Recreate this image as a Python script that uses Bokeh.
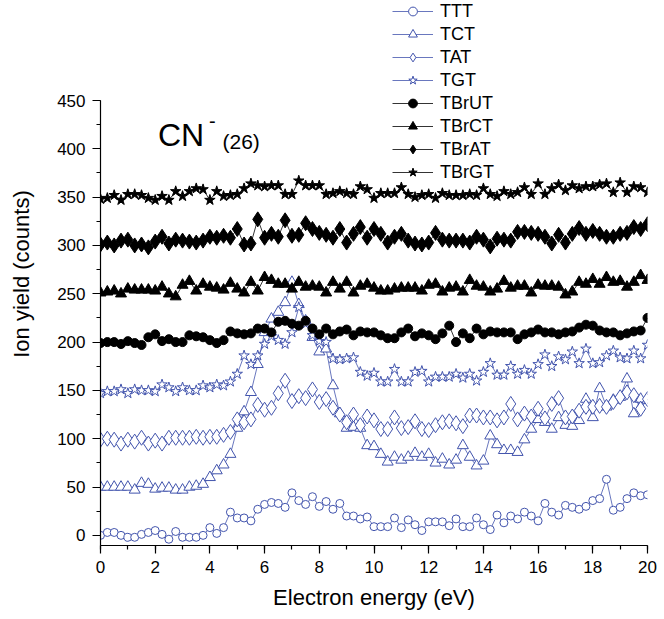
from bokeh.plotting import figure
from bokeh.models import Range1d, SingleIntervalTicker, Legend, LegendItem, Label
from bokeh.embed import file_html
from bokeh.resources import INLINE

energy = [0.0, 0.25, 0.5, 0.75, 1.0, 1.25, 1.5, 1.75, 2.0, 2.25,
          2.5, 2.75, 3.0, 3.25, 3.5, 3.75, 4.0, 4.25, 4.5, 4.75,
          5.0, 5.25, 5.5, 5.75, 6.0, 6.25, 6.5, 6.75, 7.0, 7.25,
          7.5, 7.75, 8.0, 8.25, 8.5, 8.75, 9.0, 9.25, 9.5, 9.75,
          10.0, 10.25, 10.5, 10.75, 11.0, 11.25, 11.5, 11.75, 12.0, 12.25,
          12.5, 12.75, 13.0, 13.25, 13.5, 13.75, 14.0, 14.25, 14.5, 14.75,
          15.0, 15.25, 15.5, 15.75, 16.0, 16.25, 16.5, 16.75, 17.0, 17.25,
          17.5, 17.75, 18.0, 18.25, 18.5, 18.75, 19.0, 19.25, 19.5, 19.75, 20.0]

TTT = [0, 3, 3, 0, -2, -2, 1, 3, 5, 1, -4, 4, -2, -2, -2, 0, 8, 2, 8, 24,
       18, 18, 15, 27, 32, 34, 33, 29, 44, 36, 32, 40, 30, 35, 27, 33, 20, 20, 17, 19,
       9, 9, 9, 18, 8, 16, 11, 5, 14, 14, 14, 10, 17, 9, 9, 18, 11, 6, 21, 13,
       20, 17, 24, 20, 15, 33, 24, 21, 31, 29, 27, 30, 36, 38, 58, 26, 29, 38, 44, 41, 42]
TCT = [50, 50, 50, 50, 50, 47, 54, 53, 48, 49, 49, 47, 47, 50, 51, 53, 60, 67, 73, 84,
       111, 128, 148, 177, 210, 224, 231, 241, 262, 239, 222, 205, 190, 193, 155, 126, 111, 112, 111, 93,
       92, 84, 76, 81, 78, 81, 85, 81, 84, 75, 79, 73, 78, 93, 81, 72, 77, 103, 94, 88,
       88, 86, 99, 110, 120, 117, 110, 122, 114, 113, 119, 141, 122, 152, 133, 140, 143, 162, 126, 141, 140]
TAT = [99, 100, 99, 95, 99, 97, 101, 95, 98, 95, 101, 101, 101, 101, 102, 101, 102, 102, 104, 107,
       120, 117, 120, 135, 130, 132, 147, 160, 139, 144, 142, 151, 138, 141, 132, 125, 117, 125, 114, 123,
       119, 110, 110, 122, 111, 112, 118, 110, 109, 114, 117, 118, 116, 113, 124, 124, 122, 122, 119, 122,
       136, 120, 126, 123, 131, 121, 136, 142, 122, 123, 129, 133, 133, 134, 133, 138, 143, 148, 145, 131, 141]
TGT = [147, 149, 149, 151, 147, 151, 150, 150, 149, 156, 153, 149, 153, 150, 150, 155, 153, 156, 155, 159,
       167, 186, 177, 186, 198, 206, 202, 198, 210, 236, 219, 207, 201, 200, 183, 182, 183, 184, 169, 165,
       168, 159, 159, 172, 159, 159, 169, 170, 159, 164, 164, 164, 167, 163, 167, 160, 169, 178, 166, 166,
       175, 167, 171, 167, 177, 187, 175, 185, 182, 190, 178, 193, 178, 179, 186, 191, 184, 183, 191, 183, 197]
TBrUT = [199, 200, 200, 198, 201, 199, 197, 205, 208, 201, 203, 200, 200, 207, 206, 205, 202, 199, 202, 211,
         209, 208, 209, 214, 214, 210, 221, 222, 219, 217, 222, 214, 208, 214, 208, 211, 213, 207, 211, 210,
         210, 207, 204, 204, 210, 214, 206, 209, 207, 203, 209, 217, 200, 209, 204, 214, 208, 211, 210, 210,
         210, 203, 208, 210, 213, 210, 210, 208, 210, 211, 215, 218, 217, 212, 210, 210, 207, 209, 211, 212, 225]
TBrCT = [251, 252, 253, 250, 255, 254, 254, 254, 253, 257, 250, 247, 259, 263, 253, 260, 257, 256, 254, 261,
         255, 251, 262, 253, 267, 264, 260, 260, 255, 262, 257, 258, 257, 251, 262, 255, 262, 251, 258, 260,
         256, 253, 253, 255, 256, 256, 256, 253, 259, 260, 252, 256, 257, 252, 264, 258, 257, 252, 255, 263,
         256, 258, 258, 251, 259, 258, 258, 257, 249, 252, 262, 260, 265, 260, 267, 262, 263, 257, 262, 269, 264]
TBrAT = [301, 303, 300, 305, 306, 300, 301, 298, 304, 309, 302, 306, 305, 304, 303, 305, 309, 308, 310, 308,
         317, 301, 302, 327, 308, 312, 309, 326, 310, 311, 323, 317, 313, 311, 308, 317, 303, 312, 319, 308,
         317, 312, 303, 309, 312, 305, 302, 301, 303, 313, 306, 305, 305, 305, 303, 309, 306, 299, 307, 306,
         305, 314, 314, 313, 312, 309, 302, 311, 303, 312, 318, 312, 315, 312, 309, 309, 312, 313, 319, 317, 322]
TBrGT = [348, 349, 352, 347, 353, 353, 352, 349, 347, 351, 347, 356, 351, 356, 359, 358, 347, 356, 351, 352,
         353, 359, 364, 362, 361, 362, 362, 353, 353, 367, 362, 362, 362, 353, 354, 356, 354, 353, 361, 358,
         349, 354, 354, 354, 360, 353, 350, 352, 353, 349, 354, 352, 352, 352, 353, 352, 359, 353, 351, 356,
         353, 355, 360, 353, 364, 353, 359, 363, 357, 362, 359, 361, 361, 363, 364, 355, 365, 355, 361, 360, 355]

series_names = ["TTT", "TCT", "TAT", "TGT", "TBrUT", "TBrCT", "TBrAT", "TBrGT"]
series_values = [TTT, TCT, TAT, TGT, TBrUT, TBrCT, TBrAT, TBrGT]

BLUE = "#4254ad"
styles = [
    ("circle", 8, BLUE, "white"),
    ("triangle", 11, BLUE, "white"),
    ("diamond", 15, BLUE, "white"),
    ("star", 11, BLUE, "white"),
    ("circle", 9, "black", "black"),
    ("triangle", 11, "black", "black"),
    ("diamond", 15, "black", "black"),
    ("star", 11, "black", "black"),
]

FONT = "Liberation Sans"

# frame extends above the 450 tick so the legend (which overlaps the top) stays visible
Y_MIN, Y_TOP_TICK = -10.5, 450
FRAME_H = 543
PX_PER_UNIT = 445 / (Y_TOP_TICK - Y_MIN)
Y_END = Y_MIN + FRAME_H / PX_PER_UNIT

p = figure(frame_width=547, frame_height=FRAME_H,
           min_border_left=100, min_border_right=14,
           min_border_top=2, min_border_bottom=70,
           x_range=Range1d(0, 20), y_range=Range1d(Y_MIN, Y_END),
           output_backend="svg", toolbar_location=None)
p.outline_line_color = None
p.xgrid.visible = False
p.ygrid.visible = False

p.xaxis.ticker = SingleIntervalTicker(interval=2, num_minor_ticks=2)
p.yaxis.ticker = SingleIntervalTicker(interval=50, num_minor_ticks=2)
p.yaxis.bounds = (Y_MIN, Y_TOP_TICK)
for ax in (p.xaxis[0], p.yaxis[0]):
    ax.axis_line_color = "black"
    ax.axis_line_width = 1.2
    ax.major_tick_line_color = "black"
    ax.minor_tick_line_color = "black"
    ax.major_tick_line_width = 1.2
    ax.minor_tick_line_width = 1.2
    ax.major_tick_in = 0
    ax.major_tick_out = 8
    ax.minor_tick_in = 0
    ax.minor_tick_out = 4
    ax.major_label_text_font = FONT
    ax.major_label_text_font_size = "17px"
    ax.major_label_text_color = "black"
    ax.major_label_standoff = 7
    ax.axis_label_text_font = FONT
    ax.axis_label_text_font_size = "22px"
    ax.axis_label_text_font_style = "normal"
    ax.axis_label_text_color = "black"
p.xaxis.axis_label = "Electron energy (eV)"
p.yaxis.axis_label = "Ion yield (counts)"
p.xaxis.axis_label_standoff = 9
p.yaxis.axis_label_standoff = 20

items = []
for name, vals, (mk, sz, col, fill) in zip(series_names, series_values, styles):
    lr = p.line(energy, vals, line_color=col, line_width=0.8)
    sr = p.scatter(energy, vals, marker=mk, size=sz, line_color=col,
                   fill_color=fill, line_width=1)
    items.append(LegendItem(label=name, renderers=[lr, sr]))

legend = Legend(items=items, location=(292, 362), padding=0, margin=0,
                spacing=1, glyph_width=41, glyph_height=22, label_height=22,
                label_standoff=7, label_text_font=FONT,
                label_text_font_size="18px", label_text_color="black",
                border_line_alpha=0, background_fill_alpha=0)
p.add_layout(legend, "center")

p.add_layout(Label(x=2.1, y=414.5, text="CN", text_font=FONT,
                   text_font_size="32px", text_color="black",
                   text_baseline="middle"))
p.add_layout(Label(x=3.97, y=429, text="-", text_font=FONT,
                   text_font_size="20px", text_color="black",
                   text_baseline="middle"))
p.add_layout(Label(x=4.46, y=407.5, text="(26)", text_font=FONT,
                   text_font_size="21px", text_color="black",
                   text_baseline="middle"))

open("out.html", "w").write(file_html(p, INLINE))
